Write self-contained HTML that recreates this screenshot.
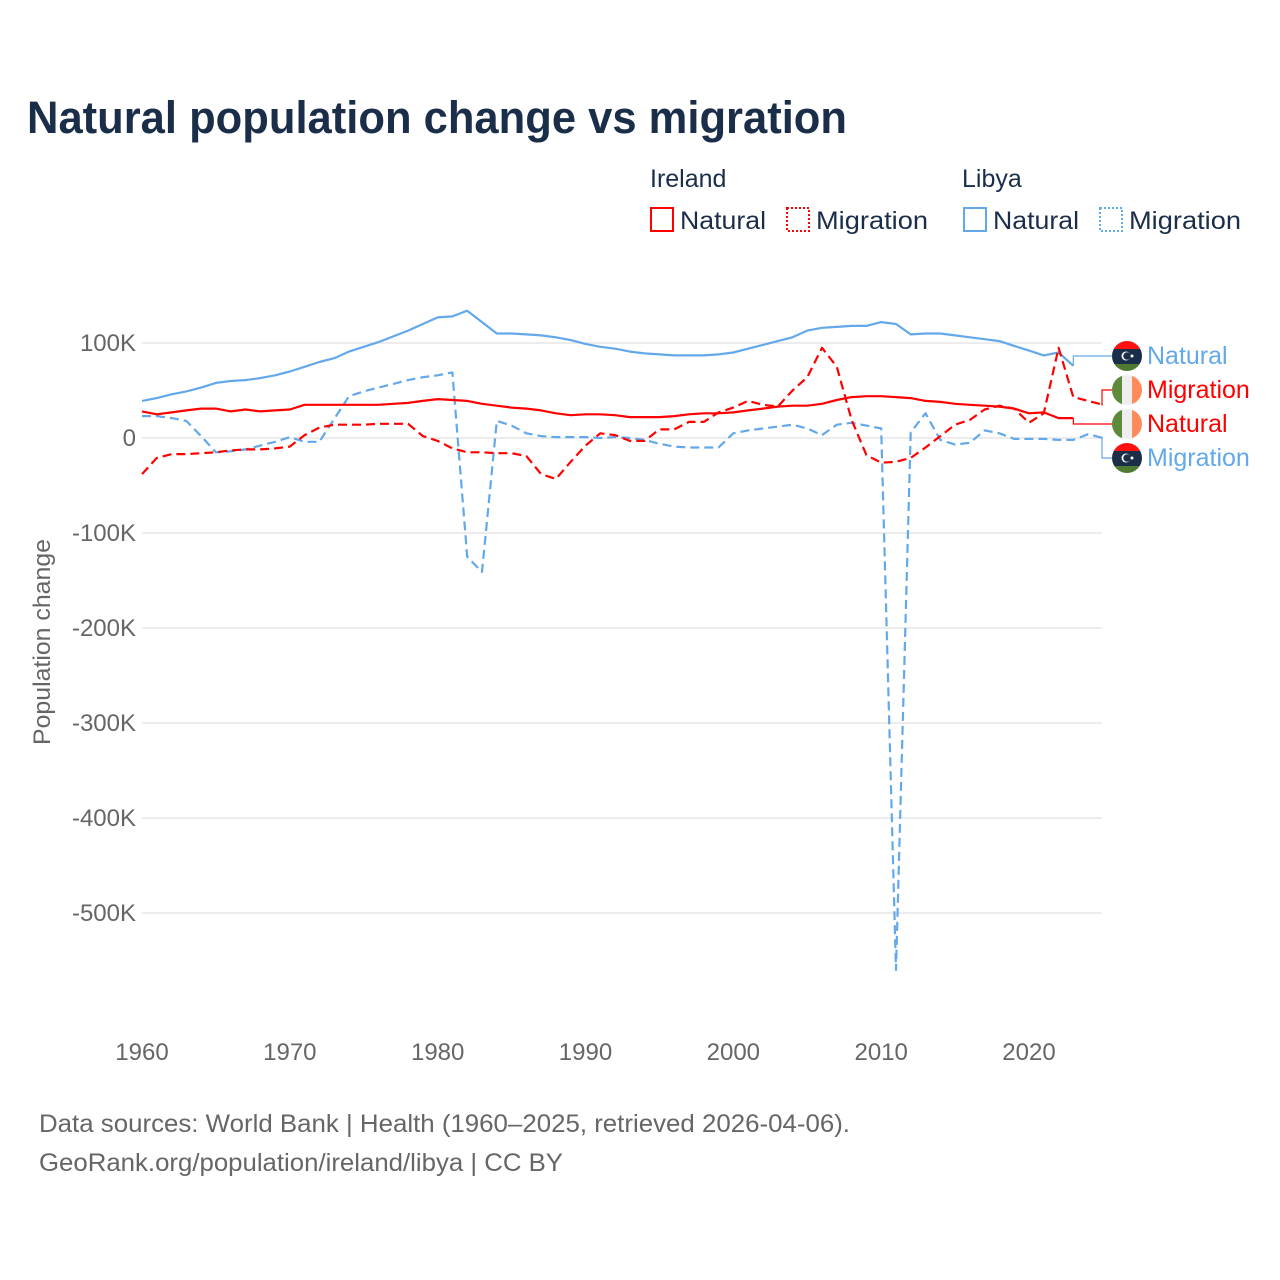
<!DOCTYPE html>
<html><head><meta charset="utf-8"><style>
body{margin:0;background:#fff;}
svg{display:block;font-family:"Liberation Sans",sans-serif;}
</style></head><body>
<svg id="chart" width="1280" height="1280" viewBox="0 0 1280 1280" xmlns="http://www.w3.org/2000/svg">
<rect width="1280" height="1280" fill="#fff"/>
<text x="27" y="133" font-size="45" font-weight="bold" fill="#1a2e4a" textLength="820" lengthAdjust="spacingAndGlyphs">Natural population change vs migration</text>
<g font-size="25" fill="#1a2e4a">
<text x="650" y="187">Ireland</text>
<text x="962" y="187">Libya</text>
<g><rect x="651" y="208" width="22" height="23" fill="none" stroke="#ff0000" stroke-width="2"/><text x="680" y="229" textLength="86" lengthAdjust="spacingAndGlyphs">Natural</text></g>
<g><rect x="787" y="208" width="22" height="23" fill="none" stroke="#ff0000" stroke-width="2" stroke-dasharray="2,2"/><text x="816" y="229" textLength="112" lengthAdjust="spacingAndGlyphs">Migration</text></g>
<g><rect x="964" y="208" width="22" height="23" fill="none" stroke="#62a8ea" stroke-width="2"/><text x="993" y="229" textLength="86" lengthAdjust="spacingAndGlyphs">Natural</text></g>
<g><rect x="1100" y="208" width="22" height="23" fill="none" stroke="#62a8ea" stroke-width="2" stroke-dasharray="2,2"/><text x="1129" y="229" textLength="112" lengthAdjust="spacingAndGlyphs">Migration</text></g>
</g>
<g id="grid"></g>
<g id="yticks" font-size="24" fill="#666" text-anchor="end"></g>
<g id="xticks" font-size="24" fill="#666" text-anchor="middle"></g>
<text transform="translate(50,642) rotate(-90)" font-size="24" fill="#666" text-anchor="middle" textLength="206" lengthAdjust="spacingAndGlyphs">Population change</text>
<g id="series"></g>
<g id="labels" font-size="25"></g>
<text x="39" y="1132" font-size="25" fill="#666" textLength="811" lengthAdjust="spacingAndGlyphs">Data sources: World Bank | Health (1960–2025, retrieved 2026-04-06).</text>
<text x="39" y="1171" font-size="25" fill="#666" textLength="524" lengthAdjust="spacingAndGlyphs">GeoRank.org/population/ireland/libya | CC BY</text>
</svg>
<script>
const years = [];
for (let y = 1960; y <= 2025; y++) years.push(y);
const yTicks = [100, 0, -100, -200, -300, -400, -500];
const yTickLabels = ["100K", "0", "-100K", "-200K", "-300K", "-400K", "-500K"];
const xTicks = [1960, 1970, 1980, 1990, 2000, 2010, 2020];
// values in thousands, starting 1960
const libyaNatural = [39,42,46,49,53,58,60,61,63,66,70,75,80,84,91,96,101,107,113,120,127,128,134,122,110,110,109,108,106,103,99,96,94,91,89,88,87,87,87,88,90,94,98,102,106,113,116,117,118,118,122,120,109,110,110,108,106,104,102,97,92,87,90,76];
const irelandNatural = [28,25,27,29,31,31,28,30,28,29,30,35,35,35,35,35,35,36,37,39,41,40,39,36,34,32,31,29,26,24,25,25,24,22,22,22,23,25,26,26,27,29,31,33,34,34,36,40,43,44,44,43,42,39,38,36,35,34,33,31,26,27,21,21];
const irelandMigration = [-38,-21,-17,-17,-16,-15,-13,-12,-12,-11,-9,3,11,14,14,14,15,15,15,2,-3,-11,-15,-15,-16,-16,-19,-38,-43,-25,-8,5,3,-3,-3,9,9,17,17,27,32,39,35,33,50,64,95,75,19,-18,-26,-25,-21,-10,2,14,19,30,34,31,16,26,95,43,39,35];
const libyaMigration = [23,23,21,18,2,-15,-14,-12,-8,-4,1,-4,-4,20,44,49,53,57,61,64,66,69,-125,-141,18,13,5,2,1,1,1,0,1,0,-2,-6,-9,-10,-10,-10,5,8,10,12,14,10,3,14,16,13,10,-560,6,26,-2,-7,-5,8,5,-1,-1,-1,-2,-2,4,0];

const NS = "http://www.w3.org/2000/svg";
const xS = yr => 142 + (yr - 1960) * (1029 - 142) / 60;
const yS = v => 438 - v * 0.95;
function mk(tag, attrs, parent) { const e = document.createElementNS(NS, tag); for (const k in attrs) e.setAttribute(k, attrs[k]); parent.appendChild(e); return e; }

const grid = document.getElementById('grid');
const yt = document.getElementById('yticks');
yTicks.forEach((v, i) => {
  const l = mk('line', {x1: 142, x2: 1102, y1: yS(v), y2: yS(v), stroke: '#e6e6e6', 'stroke-width': 1.5}, grid);
  
  
  const t = mk('text', {x: 136, y: yS(v) + 8}, yt);
  t.textContent = yTickLabels[i];
  
  
});
const xt = document.getElementById('xticks');
xTicks.forEach(yr => {
  const t = mk('text', {x: xS(yr), y: 1060}, xt);
  t.textContent = yr;
  
  
});

const ser = document.getElementById('series');
function drawLine(vals, color, dash, name) {
  const pts = vals.map((v, i) => xS(years[i]).toFixed(1) + ',' + yS(v).toFixed(1)).join(' ');
  const p = mk('polyline', {points: pts, fill: 'none', stroke: color, 'stroke-width': 2.2, 'stroke-linejoin': 'round'}, ser);
  if (dash) p.setAttribute('stroke-dasharray', '9,5');
  
  
}
drawLine(libyaNatural, '#62a8ea', false, 'line-libya-natural');
drawLine(libyaMigration, '#62a8ea', true, 'line-libya-migration');
drawLine(irelandNatural, '#ff0000', false, 'line-ireland-natural');
drawLine(irelandMigration, '#ff0000', true, 'line-ireland-migration');

const lab = document.getElementById('labels');
function flag(cx, cy, kind, parent) {
  const g = mk('g', {}, parent);
  
  
  const id = 'c' + Math.round(cy);
  const cp = mk('clipPath', {id: id}, g);
  mk('circle', {cx: cx, cy: cy, r: 15}, cp);
  const gg = mk('g', {'clip-path': 'url(#' + id + ')'}, g);
  if (kind === 'ireland') {
    mk('rect', {x: cx - 15, y: cy - 15, width: 10, height: 30, fill: '#5e8a3c'}, gg);
    mk('rect', {x: cx - 5, y: cy - 15, width: 10, height: 30, fill: '#eeeeee'}, gg);
    mk('rect', {x: cx + 5, y: cy - 15, width: 10, height: 30, fill: '#ff8a5c'}, gg);
  } else {
    mk('rect', {x: cx - 15, y: cy - 15, width: 30, height: 8, fill: '#ff1010'}, gg);
    mk('rect', {x: cx - 15, y: cy - 7, width: 30, height: 15, fill: '#1a2e4a'}, gg);
    mk('rect', {x: cx - 15, y: cy + 8, width: 30, height: 7, fill: '#4f7a32'}, gg);
    mk('circle', {cx: cx - 1, cy: cy, r: 4.5, fill: '#fff'}, gg);
    mk('circle', {cx: cx, cy: cy, r: 3.7, fill: '#1a2e4a'}, gg);
    mk('circle', {cx: cx + 5, cy: cy, r: 1.5, fill: '#fff'}, gg);
  }
}
const endLabels = [
  {vals: libyaNatural, color: '#62a8ea', ly: 356, text: 'Natural', kind: 'libya', name: 'label-libya-natural'},
  {vals: irelandMigration, color: '#ff0000', ly: 390, text: 'Migration', kind: 'ireland', name: 'label-ireland-migration'},
  {vals: irelandNatural, color: '#ff0000', ly: 424, text: 'Natural', kind: 'ireland', name: 'label-ireland-natural'},
  {vals: libyaMigration, color: '#62a8ea', ly: 458, text: 'Migration', kind: 'libya', name: 'label-libya-migration'}
];
endLabels.forEach(L => {
  const n = L.vals.length - 1;
  const x0 = xS(years[n]), y0 = yS(L.vals[n]);
  const xm = n < 65 ? x0 : 1102;
  const c = mk('polyline', {points: `${x0},${y0} ${xm},${y0} ${xm},${L.ly} 1112,${L.ly}`, fill: 'none', stroke: L.color, 'stroke-width': 1.2}, lab);
  
  
  flag(1127, L.ly, L.kind, lab);
  const t = mk('text', {x: 1147, y: L.ly + 8, fill: L.color}, lab);
  t.textContent = L.text;
  
  
});
</script>
</body></html>
